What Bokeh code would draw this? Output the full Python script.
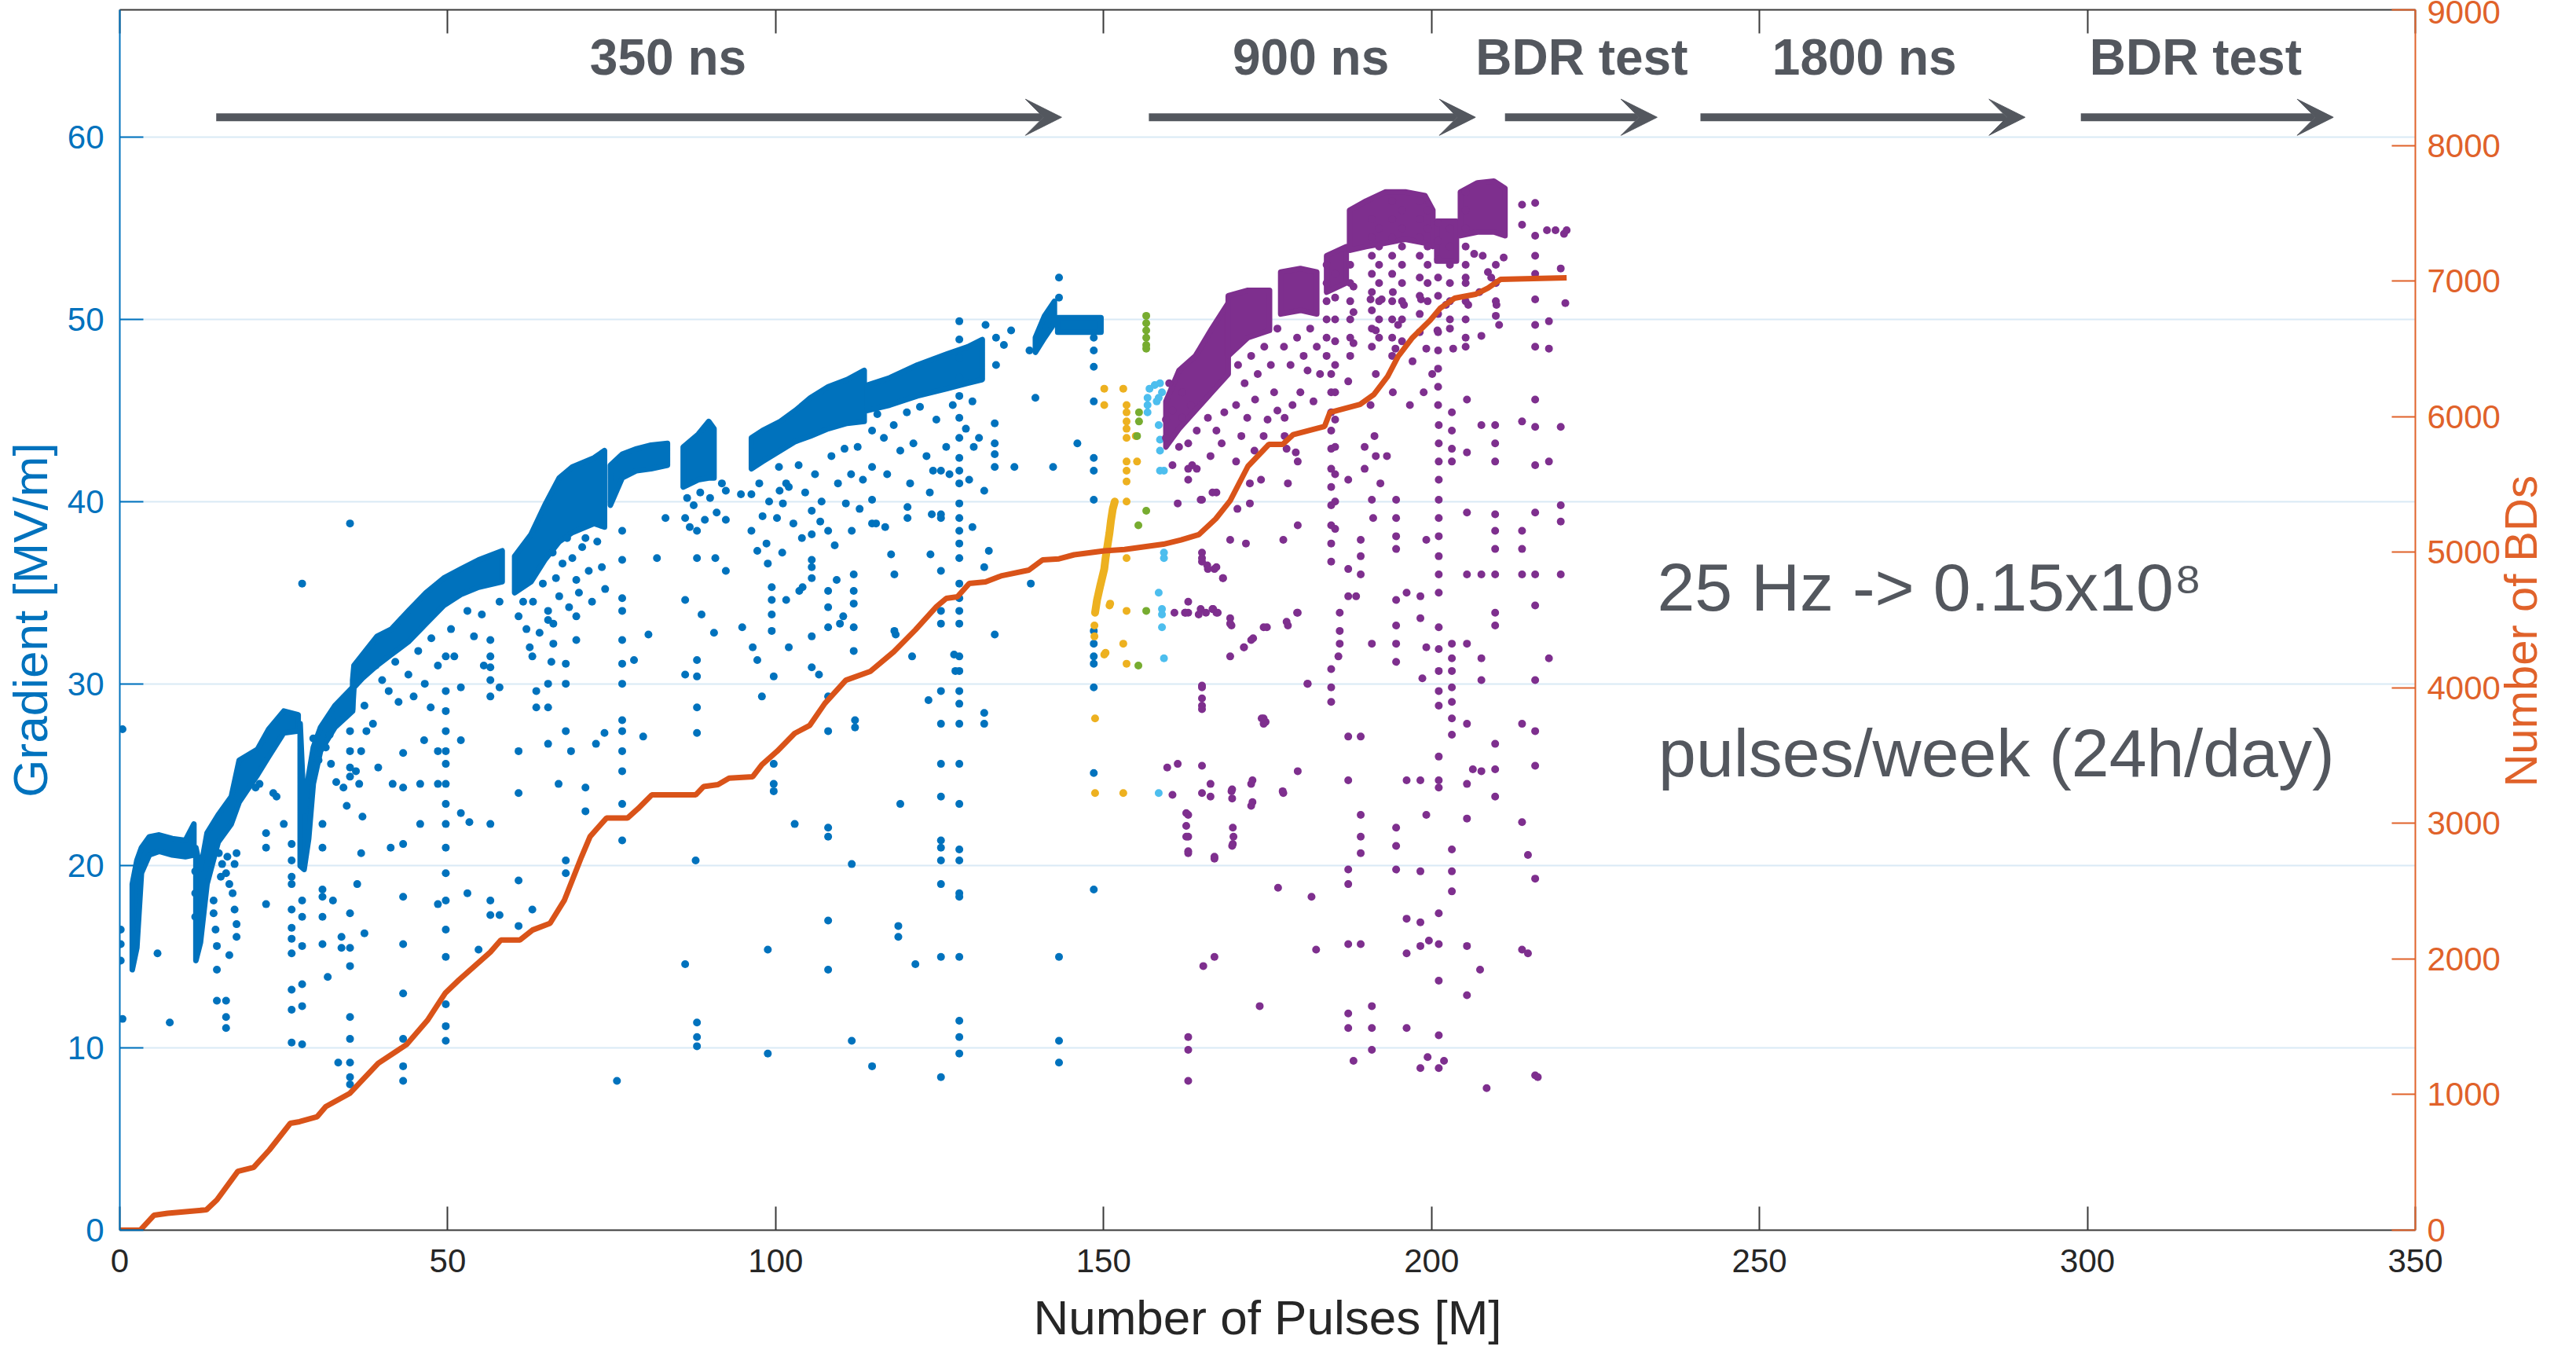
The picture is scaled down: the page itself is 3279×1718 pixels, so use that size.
import math
from bokeh.plotting import figure
from bokeh.models import Range1d, LinearAxis, FixedTicker, Arrow, VeeHead, ColumnDataSource
from bokeh.embed import file_html
from bokeh.resources import INLINE
from bokeh.core.properties import value

FONT = "Liberation Sans"
BLUE = "#0072BD"; ORANGE = "#D95319"; ORANGE_AX = "#E0622A"; YELLOW = "#EDB120"
PURPLE = "#7E2F8E"; GREEN = "#77AC30"; LBLUE = "#4DBEEE"; DARK = "#262626"; ANN = "#53575E"

# ---------------- data ----------------
x_ticks = [0, 50, 100, 150, 200, 250, 300, 350]
y_ticks = [0, 10, 20, 30, 40, 50, 60]
bd_ticks = [0, 1000, 2000, 3000, 4000, 5000, 6000, 7000, 8000, 9000]

# cumulative number of breakdowns (right axis)
bd_x = [0, 3.1, 5.2, 7.3, 13.2, 14.8, 18, 20.4, 22.8, 26, 27.4, 30.1, 31.4, 35.1, 39.4, 43.7, 46.9, 49.6,
        51.7, 56.5, 58.1, 61, 62.9, 65.6, 67.8, 70.4, 71.7, 74.2, 77.4, 79, 81.1, 87.8, 89, 91.2, 92.9,
        96.5, 97.9, 100.2, 102.9, 105.2, 107.5, 110.7, 114.4, 118, 121.3, 124.5, 126, 127.7, 129.5, 132,
        134.5, 138.6, 140.7, 143.2, 145.5, 150.1, 153.2, 159.1, 161.8, 164.5, 167.1, 169.3, 172, 175.2,
        177.3, 178.9, 183.7, 184.5, 189.1, 191.2, 193.3, 194.9, 197, 199.8, 201.3, 203.5, 206.7, 208.6,
        210.5, 220.6]
bd_y = [0, 0, 110, 125, 150, 223, 434, 463, 591, 788, 800, 837, 911, 1010, 1231, 1368, 1547, 1747,
        1845, 2051, 2140, 2140, 2213, 2263, 2435, 2754, 2903, 3039, 3039, 3108, 3210, 3210, 3271, 3286, 3334,
        3344, 3433, 3531, 3664, 3723, 3885, 4056, 4120, 4265, 4427, 4598, 4659, 4671, 4769, 4781,
        4827, 4868, 4943, 4951, 4981, 5010, 5020, 5059, 5090, 5129, 5246, 5380, 5633, 5795,
        5795, 5867, 5928, 6030, 6090, 6163, 6296, 6444, 6577, 6711, 6798, 6873, 6902, 6948,
        7012, 7024]

# dense conditioning bands of the 350 ns run: (x, upper gradient, lower gradient)
blue_bands = [
    ([1.9, 2.6, 3.3, 4.5, 6.0, 8.0, 10.0, 11.3], [19.0, 20.3, 21.0, 21.6, 21.7, 21.5, 21.4, 22.3], [14.3, 15.5, 19.6, 20.6, 20.8, 20.6, 20.5, 20.6]),
    ([11.6, 12.3, 13.3, 15.0, 17.0, 18.2, 21.0, 22.7, 25.0, 27.2], [21.0, 19.8, 21.8, 22.8, 23.8, 25.8, 26.4, 27.5, 28.5, 28.3], [14.8, 15.8, 19.0, 21.3, 22.3, 23.5, 25.0, 26.0, 27.3, 27.4]),
    ([27.5, 28.1, 28.8, 29.5, 30.6, 32.8, 35.5], [27.8, 23.0, 25.0, 26.5, 27.6, 28.8, 29.8], [20.0, 19.8, 21.5, 24.5, 26.3, 27.6, 28.5]),
    ([35.5, 35.7, 37, 39.2, 41.4, 44, 46.7, 49.4, 52, 54.7, 58.3], [30.2, 31.0, 31.6, 32.6, 33.0, 34.0, 35.0, 35.8, 36.3, 36.8, 37.3], [28.6, 29.8, 30.3, 31.0, 31.6, 32.3, 33.3, 34.3, 34.9, 35.3, 35.6]),
    ([60.2, 62.7, 64.8, 67.0, 69.0, 72.3, 73.9], [37.0, 38.2, 39.8, 41.3, 41.9, 42.4, 42.8], [35.0, 35.6, 36.8, 37.8, 38.3, 38.8, 38.6]),
    ([74.8, 76.6, 78.8, 81.0, 83.5], [42.0, 42.6, 42.9, 43.1, 43.2], [39.8, 41.3, 41.7, 41.8, 42.0]),
    ([85.9, 88.2, 89.8, 90.6], [43.0, 43.7, 44.4, 44.0], [40.8, 41.2, 41.3, 41.3]),
    ([96.3, 98.0, 100.7, 103.0, 105.3, 108.0, 110.9, 113.5], [43.5, 43.9, 44.4, 45.0, 45.7, 46.3, 46.7, 47.2], [41.8, 42.2, 42.8, 43.3, 43.6, 44.0, 44.3, 44.4]),
    ([114.0, 117.4, 121.6, 126.1, 129.3, 131.5], [46.4, 46.8, 47.5, 48.1, 48.5, 48.9], [45.0, 45.3, 45.8, 46.2, 46.5, 46.7]),
    ([139.6, 141.0, 142.5], [49.0, 50.2, 51.0], [48.2, 49.0, 49.8]),
    ([143.0, 149.6], [50.1, 50.1], [49.3, 49.3]),
]

# dense bands of the 900 ns run
purple_bands = [
    ([159.5, 161.5, 164.0, 166.5, 169.0], [45.5, 47.2, 48.0, 49.5, 50.9], [43.0, 44.0, 45.0, 46.0, 47.0]),
    ([169.0, 172.0, 175.3], [51.3, 51.6, 51.6], [48.0, 49.0, 49.4]),
    ([177.0, 180.0, 182.5], [52.6, 52.8, 52.6], [50.3, 50.5, 50.3]),
    ([184.0, 187.0], [53.5, 54.0], [51.5, 52.0]),
    ([187.5, 190.0, 193.0, 196.0, 199.0, 200.2], [56.0, 56.5, 57.0, 57.0, 56.8, 56.0], [53.8, 54.0, 54.2, 54.4, 54.2, 54.0]),
    ([200.8, 203.8], [55.4, 55.4], [53.2, 53.2]),
    ([204.4, 207.0, 209.5, 211.2], [57.0, 57.5, 57.6, 57.2], [54.6, 54.8, 54.8, 54.6]),
]

blue_pts = [
    (0.41, 27.5), (0.41, 11.6), (0.14, 16.5), (0.14, 15.7), (0.14, 14.8), (5.75, 15.2), (7.62, 11.4), (11.5, 19.7), (11.5, 18.5), (11.5, 17.2),
    (14.3, 18.1), (14.3, 17.4), (14.6, 16.5), (14.8, 15.6), (14.8, 14.3), (14.8, 12.6), (16.2, 12.6), (16.2, 11.7), (16.2, 11.1), (16.7, 15.1), (17.8, 16.1), (17.5, 17.6), (17.8, 16.8),
    (15.1, 20.7), (15.6, 20.1), (16.2, 19.6), (16.7, 19.0), (17.2, 18.5), (15.4, 19.4), (16.4, 20.5), (17.5, 20.1), (17.8, 20.7),
    (20.7, 24.3), (21.3, 24.5), (22.3, 21.8), (22.3, 21.0), (22.3, 17.9), (23.4, 24.0), (23.9, 23.8), (25.0, 22.3),
    (26.2, 21.2), (26.2, 20.3), (26.2, 19.4), (26.2, 19.0), (26.2, 17.6), (26.2, 16.6), (26.2, 16.0), (26.2, 15.2), (26.2, 13.2), (26.2, 12.1), (26.2, 10.3),
    (27.8, 35.5), (27.8, 18.1), (27.8, 17.2), (27.8, 15.6), (27.8, 13.5), (27.8, 12.3), (27.8, 10.2),
    (30.9, 22.3), (30.9, 21.0), (30.9, 18.7), (30.9, 18.3), (30.9, 17.2), (30.9, 15.7), (31.7, 13.9), (32.5, 18.1), (33.8, 16.1), (33.8, 15.5),
    (35.1, 27.4), (35.1, 26.3), (35.1, 25.4), (35.1, 24.9), (35.1, 17.4), (35.1, 15.5), (35.1, 14.5), (35.1, 11.7), (35.1, 10.5), (35.1, 9.2), (35.1, 8.4), (35.1, 8.0),
    (35.1, 38.8), (33.3, 9.2), (36.5, 24.5), (37.0, 22.7), (36.8, 20.7), (36.2, 19.0), (37.3, 16.3),
    (39.4, 25.4), (41.3, 21.0), (41.6, 24.5),
    (43.2, 26.2), (43.2, 24.3), (43.2, 21.2), (43.2, 18.3), (43.2, 15.7), (43.2, 13.0), (43.2, 10.5), (43.2, 9.0), (43.2, 8.2),
    (44.8, 29.3), (45.8, 22.3), (45.8, 24.5), (46.4, 26.9), (47.4, 28.7), (48.5, 26.3), (48.5, 24.5), (48.5, 17.9),
    (49.7, 31.5), (49.7, 29.6), (49.7, 28.5), (49.7, 27.4), (49.7, 26.3), (49.7, 25.6), (49.7, 24.5), (49.7, 23.4), (49.7, 22.3), (49.7, 21.0),
    (49.7, 19.6), (49.7, 18.1), (49.7, 16.5), (49.7, 15.0), (49.7, 12.4), (49.7, 11.2), (49.7, 10.4),
    (52.0, 29.8), (52.0, 26.9), (52.0, 22.9), (53.0, 18.5), (53.3, 22.4), (54.7, 15.4),
    (56.5, 32.4), (56.5, 31.5), (56.5, 30.9), (56.5, 30.2), (56.5, 29.3), (56.5, 22.3), (56.5, 18.1), (56.5, 17.3),
    (57.9, 34.5), (57.9, 29.8), (57.9, 17.3),
    (60.8, 33.7), (60.8, 26.3), (60.8, 24.0), (60.8, 19.2), (60.8, 16.7), (62.9, 31.5), (62.9, 17.6), (63.5, 29.6), (63.5, 28.7),
    (65.3, 34.0), (65.3, 33.5), (65.3, 30.0), (65.3, 28.7), (65.3, 26.7), (66.1, 33.3), (66.1, 32.2), (66.9, 24.5),
    (68.0, 31.1), (68.0, 30.0), (68.0, 27.4), (68.0, 20.3), (68.0, 19.6), (68.8, 26.3), (69.6, 35.7), (69.6, 33.7), (69.6, 32.4),
    (71.0, 24.3), (71.0, 23.0), (72.6, 26.7), (73.9, 27.3),
    (76.6, 38.4), (76.6, 36.8), (76.6, 34.7), (76.6, 34.0), (76.6, 32.4), (76.6, 31.1), (76.6, 30.0), (76.6, 28.0), (76.6, 27.4), (76.6, 26.3), (76.6, 25.2), (76.6, 23.4), (76.6, 21.4),
    (75.8, 8.2), (78.4, 31.3), (80.6, 32.7), (79.8, 27.1),
    (29.5, 27.0), (30.3, 25.8), (31.4, 26.5), (32.2, 25.6), (33.0, 24.6), (34.1, 24.3), (36.0, 25.2), (36.8, 26.3), (37.6, 27.4), (38.6, 27.8),
    (37.3, 28.8), (34.6, 23.3), (32.0, 27.2), (33.5, 28.0),
    (39.0, 31.0), (40.0, 30.2), (41.0, 29.6), (42.0, 31.2), (42.5, 29.0), (44.0, 30.5), (45.5, 31.8), (46.5, 30.0), (47.5, 32.5), (48.5, 31.0),
    (50.5, 33.0), (51.0, 31.5), (53.0, 34.0), (54.0, 32.6), (55.2, 33.8), (55.5, 31.0),
    (61.5, 34.5), (62.0, 33.0), (63.0, 34.5), (64.0, 32.8), (64.5, 35.5), (66.5, 35.8), (67.0, 34.8), (67.5, 36.6), (68.5, 34.2), (69.0, 36.9),
    (70.0, 35.0), (70.5, 37.5), (71.5, 36.2), (72.0, 34.5), (72.8, 37.8), (73.5, 36.4), (74.0, 35.2), (71.0, 38.0), (68.2, 38.0), (66.0, 37.2),
    (62.5, 32.0), (65.8, 31.2),
    (81.9, 36.9), (83.2, 39.1), (86.2, 39.1), (86.9, 38.6), (88.0, 38.4),
    (86.2, 34.6), (86.2, 30.5), (86.2, 14.6),
    (88.0, 36.9), (88.0, 31.3), (88.0, 30.4), (88.0, 28.7), (88.0, 27.3), (88.0, 11.4), (88.0, 10.6), (88.0, 10.1),
    (87.8, 20.3), (88.7, 33.8), (90.6, 32.8), (90.8, 36.9), (92.4, 39.0), (92.4, 36.2), (92.4, 40.6), (94.7, 40.4), (96.3, 40.4),
    (86.5, 40.2), (87.5, 39.8), (88.5, 40.5), (89.2, 39.0), (90.0, 40.2), (91.0, 39.4), (91.8, 41.0),
    (94.9, 33.1), (96.5, 32.0), (97.2, 31.3), (96.3, 38.4), (97.2, 37.3), (98.6, 37.7), (98.8, 36.6),
    (99.4, 35.3), (99.4, 34.6), (99.4, 33.8), (99.4, 32.9), (99.7, 30.4), (99.7, 25.6), (99.7, 24.5), (99.7, 24.1), (98.8, 15.4), (98.8, 9.7), (97.9, 29.3),
    (100.2, 39.1), (100.6, 40.6), (101.1, 39.9), (101.6, 41.0), (101.6, 34.6), (102.0, 32.0), (102.7, 38.8), (102.9, 22.3), (103.6, 35.1), (104.1, 35.3),
    (97.5, 41.0), (99.0, 40.0), (100.5, 41.9), (102.0, 40.8), (103.5, 42.0), (104.5, 40.5), (106.0, 41.5), (107.0, 40.0), (108.5, 42.5), (109.5, 41.0),
    (110.5, 42.9), (111.5, 41.5), (112.5, 43.0), (113.3, 41.2), (104.0, 38.0), (106.8, 38.9), (109.0, 37.6), (112.8, 39.6), (101.0, 37.2), (98.0, 39.2),
    (105.5, 38.2), (105.5, 39.5), (105.5, 36.8), (105.5, 36.4), (105.5, 35.8), (105.5, 32.6), (105.5, 30.9), (106.6, 30.5),
    (108.0, 38.4), (108.0, 35.1), (108.0, 34.2), (108.0, 33.1), (108.0, 29.3), (108.0, 27.4), (108.0, 22.1), (108.0, 21.6), (108.0, 17.0), (108.0, 14.3),
    (109.3, 35.7), (109.8, 33.3), (110.3, 33.7),
    (111.9, 36.0), (111.9, 35.1), (111.9, 34.4), (111.9, 33.1), (111.9, 31.8), (110.7, 39.9), (111.6, 38.4), (112.1, 28.0), (112.1, 27.6), (111.6, 20.1), (111.6, 10.4),
    (114.7, 43.9), (114.7, 41.9), (114.7, 40.1), (114.7, 38.8), (114.7, 9.0), (115.3, 38.8), (116.7, 38.6),
    (115.5, 44.8), (116.5, 43.5), (118.0, 44.2), (119.0, 42.8), (120.0, 44.9), (121.0, 43.2), (122.0, 45.2), (123.0, 42.5), (124.5, 44.5), (126.0, 43.0),
    (127.0, 45.3), (129.0, 44.0), (130.0, 45.5), (131.0, 43.5), (117.0, 41.5), (120.5, 41.0), (123.5, 40.5), (126.5, 41.5), (129.5, 41.2),
    (117.6, 37.1), (118.1, 36.0), (118.1, 32.9), (118.3, 32.7), (118.7, 16.7), (118.7, 16.1), (119.0, 23.4),
    (120.8, 31.5), (121.3, 14.6), (120.1, 39.7), (120.1, 39.1), (123.6, 37.1), (123.3, 29.1), (123.8, 39.3), (124.0, 41.7),
    (125.2, 41.7), (125.2, 39.3), (125.2, 39.1), (125.2, 36.2), (125.2, 34.0), (125.2, 33.3), (125.2, 29.6), (125.2, 27.8), (125.2, 25.6), (125.2, 23.8),
    (125.2, 21.4), (125.2, 21.0), (125.2, 20.3), (125.2, 19.0), (125.2, 15.0), (125.2, 8.4),
    (128.0, 49.9), (128.0, 48.9), (128.0, 47.9), (128.0, 46.8), (128.0, 45.8),
    (128.0, 44.6), (128.0, 43.5), (128.0, 42.4), (128.0, 41.7), (128.0, 41.0), (128.0, 39.9), (128.0, 39.1), (128.0, 38.4), (128.0, 37.7), (128.0, 36.9),
    (128.0, 35.5), (128.0, 34.7), (128.0, 34.0), (128.0, 33.3), (128.0, 31.5), (128.0, 30.7), (128.0, 29.6), (128.0, 28.9), (128.0, 27.8), (128.0, 25.6),
    (128.0, 23.4), (128.0, 20.9), (128.0, 20.3), (128.0, 18.5), (128.0, 18.3), (128.0, 15.0), (128.0, 11.5), (128.0, 10.6), (128.0, 9.7),
    (127.2, 31.6), (127.4, 30.7), (130.2, 43.0), (130.0, 38.6),
    (131.8, 40.6), (131.8, 36.4), (131.8, 28.4), (131.8, 27.8), (132.5, 37.3),
    (133.4, 44.3), (133.4, 43.2), (133.4, 42.6), (133.4, 41.9), (133.4, 32.7),
    (136.4, 41.9), (138.9, 35.5), (139.6, 45.7), (142.3, 41.9), (143.2, 15.0), (143.2, 10.4), (143.2, 9.2), (146.0, 43.2),
    (148.5, 49.0), (148.5, 48.3), (148.5, 47.4), (148.5, 45.5), (148.5, 42.4), (148.5, 41.7), (148.5, 40.1), (148.5, 32.9), (148.5, 32.2),
    (148.5, 31.5), (148.5, 31.1), (148.5, 29.8), (148.5, 25.1), (148.5, 18.7),
    (143.2, 52.3), (143.2, 51.2), (132.0, 49.7), (133.6, 49.0), (134.8, 48.6), (135.9, 49.4), (133.6, 47.5), (138.7, 48.3),
]

yellow_run_x = [148.7, 149.0, 149.5, 150.1, 150.3, 150.6, 150.9, 151.1, 151.4, 151.7]
yellow_run_y = [33.9, 34.6, 35.4, 36.3, 36.9, 37.6, 38.3, 38.9, 39.6, 40.0]
yellow_pts = [
    (150.1, 46.2), (150.1, 45.3), (153.0, 46.2), (153.5, 45.3), (153.5, 44.9), (153.5, 44.4), (153.5, 44.0), (153.5, 43.5),
    (153.5, 42.2), (153.5, 41.7), (153.5, 41.1), (153.5, 40.0), (153.5, 36.9), (153.5, 34.0), (150.9, 34.3), (153.0, 32.2),
    (153.5, 31.1), (150.3, 31.7), (148.7, 28.1), (153.0, 24.0), (154.9, 43.6), (155.1, 42.2), (148.6, 32.6), (148.6, 33.2),
    (151.0, 34.4), (150.1, 31.6), (148.7, 24.0),
]
green_pts = [
    (156.5, 50.2), (156.5, 49.8), (156.5, 49.4), (156.5, 49.0), (156.5, 48.6), (156.5, 48.4),
    (155.4, 44.9), (155.4, 44.4), (155.1, 43.6), (156.5, 39.5), (155.3, 38.7), (156.5, 34.0), (155.3, 31.0),
]
lblue_pts = [
    (156.7, 45.7), (157.0, 46.2), (157.8, 46.4), (158.6, 46.5), (158.9, 46.0), (158.4, 45.7), (156.7, 45.3), (158.1, 45.5),
    (156.7, 44.9), (158.4, 44.2), (158.6, 43.4), (158.6, 42.8), (158.6, 41.7), (159.2, 41.7), (159.2, 37.2), (159.2, 36.9),
    (158.4, 35.0), (158.9, 34.1), (158.9, 33.8), (158.9, 33.1), (159.2, 31.4), (158.4, 24.0),
]
purple_pts = [
    (162.9, 43.2), (162.9, 41.8), (162.9, 41.2), (162.9, 33.9), (162.9, 22.8), (162.9, 21.6), (162.9, 20.7), (162.9, 10.6), (162.9, 9.9), (162.9, 8.2), (162.5, 33.9),
    (165.0, 40.1), (165.0, 37.2), (165.0, 36.7), (165.0, 29.8), (165.0, 28.8), (165.0, 25.5), (165.0, 24.0),
    (164.8, 34.1), (166.7, 34.1), (167.2, 33.9), (169.3, 33.6), (169.5, 33.2), (166.3, 24.5), (166.3, 23.8),
    (165.2, 14.5), (166.9, 15.0), (166.9, 20.4), (167.2, 40.5), (165.9, 36.3), (166.9, 36.3), (168.2, 35.8),
    (169.3, 37.9), (170.4, 39.6), (171.7, 37.7), (172.3, 41.0), (172.3, 39.9), (169.3, 31.5),
    (169.5, 24.1), (169.7, 22.1), (169.7, 21.2), (171.4, 32.0), (172.5, 32.4), (172.7, 24.7), (172.7, 23.5), (173.8, 12.3),
    (174.0, 41.2), (174.9, 33.1), (174.4, 28.1), (174.4, 27.8),
    (177.4, 37.9), (177.4, 24.0), (178.1, 33.2), (178.1, 41.0),
    (179.6, 38.7), (179.6, 33.9), (179.6, 25.2), (181.7, 18.3), (181.1, 30.0),
    (177.6, 44.6), (177.6, 43.6), (177.9, 42.9), (179.3, 42.7), (179.6, 42.2), (181.1, 47.2),
    (184.7, 47.0), (184.7, 46.0), (184.7, 44.9), (184.7, 43.9), (184.7, 42.9), (184.7, 41.8), (184.7, 40.8), (184.7, 39.8), (184.7, 38.7), (184.7, 37.7),
    (184.7, 36.7), (184.7, 30.8), (184.7, 29.8), (184.7, 29.0),
    (186.0, 33.9), (186.0, 32.9), (186.0, 32.2), (185.8, 31.5),
    (187.3, 41.2), (187.3, 36.3), (187.3, 34.8), (187.3, 27.1), (187.3, 24.7), (187.3, 19.8), (187.3, 19.0), (187.3, 15.7), (187.3, 11.9), (187.3, 11.1),
    (189.2, 37.9), (189.2, 37.0), (189.2, 36.0), (189.2, 27.1), (189.2, 22.8), (189.2, 21.6), (189.2, 20.7), (189.2, 15.7), (188.5, 34.8),
    (189.8, 43.0), (189.8, 41.8), (190.9, 40.1), (191.1, 39.1), (190.9, 32.2), (190.9, 12.3), (190.9, 11.1), (190.9, 9.9),
    (191.3, 43.6), (191.5, 42.5), (193.2, 42.5), (192.2, 41.0),
    (194.6, 40.1), (194.6, 39.1), (194.6, 38.1), (194.6, 37.4), (194.6, 34.6), (194.6, 33.2), (194.6, 32.2), (194.6, 31.2), (194.6, 22.1), (194.6, 21.1), (194.6, 19.8),
    (196.2, 35.0), (196.2, 24.7), (196.2, 17.1), (196.2, 15.2), (196.2, 11.1),
    (198.3, 34.8), (198.3, 33.6), (198.3, 24.7), (198.3, 19.7), (198.3, 16.9), (198.3, 15.6), (198.3, 8.9), (199.4, 9.5), (198.6, 30.3), (199.2, 32.0), (199.2, 37.9), (199.2, 22.8),
    (201.1, 44.2), (201.1, 43.2), (201.1, 42.2), (201.1, 41.2), (201.1, 40.1), (201.1, 39.1), (201.1, 38.1), (201.1, 37.0), (201.1, 36.0), (201.1, 35.0),
    (201.1, 33.1), (201.1, 31.9), (201.1, 30.7), (201.1, 29.6), (201.1, 28.8), (201.1, 26.0), (201.1, 24.7), (201.1, 24.3), (201.1, 17.4), (201.1, 15.7), (201.1, 13.7), (201.1, 8.9),
    (203.1, 44.9), (203.1, 43.9), (203.1, 42.9), (203.1, 42.2), (203.1, 32.2), (203.1, 31.4), (203.1, 30.7), (203.1, 29.8), (203.1, 29.0), (203.1, 28.1),
    (203.1, 27.2), (203.1, 20.9), (203.1, 19.7), (203.1, 18.6),
    (205.4, 45.6), (205.4, 42.7), (205.4, 39.4), (205.4, 36.0), (205.4, 32.2), (205.4, 27.8), (205.4, 24.5), (205.4, 22.6), (205.4, 15.6),
    (207.6, 49.1), (207.6, 44.2), (207.6, 36.0), (207.6, 31.4), (207.6, 30.2), (207.6, 25.2), (206.3, 25.3), (208.4, 7.8),
    (209.7, 44.2), (209.7, 43.2), (209.7, 42.2), (209.7, 39.3), (209.7, 38.4), (209.7, 37.4), (209.7, 36.0), (209.7, 33.9), (209.7, 33.2), (209.7, 26.7), (209.7, 25.3), (209.7, 23.8),
    (213.8, 44.4), (213.8, 38.4), (213.8, 37.4), (213.8, 36.0), (213.8, 27.8), (213.8, 22.4), (213.8, 15.4),
    (215.8, 56.4), (215.8, 54.6), (215.8, 53.5), (215.8, 52.5), (215.8, 51.1), (215.8, 49.7), (215.8, 48.5), (215.8, 45.6), (215.8, 44.1), (215.8, 42.0),
    (215.8, 39.4), (215.8, 36.0), (215.8, 34.3), (215.8, 30.2), (215.8, 27.4), (215.8, 25.5), (215.8, 19.3), (215.8, 8.5),
    (217.9, 49.9), (217.9, 48.4), (217.9, 42.2), (217.9, 31.4),
    (219.7, 52.8), (219.7, 44.1), (219.7, 39.8), (219.7, 38.9), (219.7, 36.0), (220.4, 50.9),
    (213.8, 56.3), (213.8, 55.2), (217.6, 54.9), (218.9, 54.9), (220.2, 54.7), (220.6, 54.9),
    (159.7, 25.4), (161.3, 25.6), (160.5, 23.9), (160.8, 33.9), (162.4, 33.9), (162.9, 34.5), (164.5, 33.8), (165.6, 33.9), (166.6, 34.1), (167.4, 33.9), (169.3, 33.3),
    (165.0, 36.9), (165.8, 36.5), (167.2, 36.4), (168.2, 35.8), (165.0, 29.9), (165.0, 29.2), (165.0, 28.6),
    (162.6, 22.9), (162.6, 22.2), (162.6, 21.6), (162.9, 20.8), (161.3, 39.9), (164.8, 40.1), (166.6, 40.5),
    (169.6, 24.2), (169.6, 23.7), (169.8, 21.6), (169.6, 21.1), (171.4, 32.0), (172.8, 32.5), (174.4, 33.1), (174.7, 27.9), (172.5, 24.5), (172.5, 23.3), (174.1, 28.1),
    (177.3, 24.1), (177.9, 33.4), (179.5, 33.9), (181.1, 30.0), (166.9, 20.5),
    (176.6, 18.8), (182.4, 15.4), (188.1, 9.3), (199.6, 15.9), (201.1, 10.7), (201.9, 9.3), (205.4, 12.9), (207.4, 14.3), (216.2, 8.4), (214.7, 20.6), (214.7, 15.2),
    (162.0, 46.0), (163.3, 45.3), (162.0, 44.6), (164.2, 43.9), (165.9, 44.6), (167.2, 43.9), (168.4, 44.9), (168.0, 43.2), (170.2, 45.3), (171.0, 43.6),
    (171.9, 44.6), (173.1, 45.6), (174.4, 43.6), (170.2, 42.2), (166.3, 42.5), (164.2, 41.8),
    (188.1, 51.8), (188.1, 50.4), (190.7, 51.1), (191.5, 49.4), (192.4, 51.1), (194.1, 51.5), (194.9, 49.7), (195.8, 50.8), (197.1, 47.7), (198.4, 51.1),
    (199.2, 48.4), (200.9, 49.4), (202.2, 50.8), (203.3, 48.4), (205.2, 52.3), (205.6, 50.8), (207.3, 51.5), (209.1, 52.3), (209.9, 50.8), (210.3, 49.7),
    (191.5, 47.0), (194.1, 46.0), (196.7, 45.3), (190.7, 45.3), (198.8, 46.0), (187.3, 46.6), (188.1, 48.7), (194.5, 48.4), (200.1, 47.0),
    (159.5, 44.5), (159.5, 43.5), (160.0, 46.5), (160.5, 45.0),
    (184.0, 53.0), (184.0, 52.0), (184.0, 51.0), (184.0, 50.0), (184.0, 49.0), (184.0, 48.0),
    (185.3, 52.5), (185.3, 51.2), (185.3, 50.0), (185.3, 48.8), (185.3, 47.5), (185.3, 46.0), (185.3, 44.5), (185.3, 43.0), (185.3, 41.5), (185.3, 40.0), (185.3, 38.5),
    (187.6, 53.0), (187.6, 52.0), (187.6, 51.0), (187.6, 50.0), (187.6, 49.0), (187.6, 48.0),
    (190.9, 55.5), (190.9, 54.5), (190.9, 53.5), (190.9, 52.5), (190.9, 51.5), (190.9, 50.5), (190.9, 49.5), (190.9, 48.5),
    (192.0, 55.0), (192.0, 54.0), (192.0, 53.0), (192.0, 52.0), (192.0, 51.0), (192.0, 50.0), (192.0, 49.0),
    (194.0, 56.5), (194.0, 55.5), (194.0, 54.5), (194.0, 53.5), (194.0, 52.5), (194.0, 51.0), (194.0, 50.0), (194.0, 49.0), (194.0, 48.0),
    (195.5, 56.0), (195.5, 55.0), (195.5, 54.0), (195.5, 53.0), (195.5, 52.0), (195.5, 51.0), (195.5, 50.0), (195.5, 48.8),
    (198.2, 56.5), (198.2, 55.5), (198.2, 54.5), (198.2, 53.5), (198.2, 52.3), (198.2, 51.3), (198.2, 50.3), (198.2, 49.3),
    (199.4, 56.0), (199.4, 55.0), (199.4, 54.0), (199.4, 53.0), (199.4, 52.0), (199.4, 51.0),
    (201.0, 55.3), (201.0, 54.3), (201.0, 53.3), (201.0, 52.3), (201.0, 51.3), (201.0, 50.3), (201.0, 49.3), (201.0, 48.3), (201.0, 47.3), (201.0, 46.3), (201.0, 45.3),
    (202.8, 55.0), (202.8, 54.0), (202.8, 53.0), (202.8, 52.0), (202.8, 51.0), (202.8, 50.0), (202.8, 49.5),
    (205.2, 57.0), (205.2, 56.0), (205.2, 55.0), (205.2, 54.0), (205.2, 53.0), (205.2, 52.0), (205.2, 51.0), (205.2, 50.0), (205.2, 49.0), (205.2, 48.5),
    (209.8, 53.0), (209.8, 52.0), (209.8, 51.0), (209.8, 50.2), (207.8, 53.5), (208.6, 52.6), (206.5, 53.6), (211.0, 53.4),
    (170.5, 47.5), (171.5, 46.5), (172.5, 48.0), (173.5, 47.0), (174.5, 48.5), (175.5, 47.5), (176.0, 46.0), (176.5, 49.5), (177.5, 48.5), (178.5, 47.5),
    (179.5, 49.0), (180.5, 48.0), (181.5, 49.5), (182.5, 48.5), (183.0, 47.0), (180.0, 46.0), (182.0, 45.5), (176.5, 45.0), (175.0, 44.5), (173.0, 42.8),
    (178.8, 45.3), (160.5, 42.0), (161.5, 43.0), (163.5, 42.0),
]

# run annotations along the top
phase_labels = ["350 ns", "900 ns", "BDR test", "1800 ns", "BDR test"]
phase_label_x = [83.6, 181.6, 222.9, 266.0, 316.5]
phase_arrow_start = [14.7, 156.9, 211.2, 241.0, 299.0]
phase_arrow_end = [143.6, 206.7, 234.4, 290.5, 337.5]
phase_label_y = 64.4
phase_arrow_y = 61.1
note_lines = ["25 Hz -> 0.15x10\u2078", "pulses/week (24h/day)"]
note_x = [234.4, 234.6]
note_y = [35.3, 26.2]

# ---------------- figure ----------------
p = figure(width=3279, height=1718, x_range=Range1d(0, 350), y_range=Range1d(0, 67),
           output_backend="svg", toolbar_location=None,
           min_border_left=150, min_border_right=205, min_border_top=12, min_border_bottom=153)
p.extra_y_ranges = {"bd": Range1d(0, 9000)}
p.background_fill_color = "white"
p.border_fill_color = "white"
p.outline_line_color = None


def style_axis(ax, color, label_color, ticks, standoff):
    ax.ticker = FixedTicker(ticks=ticks)
    ax.axis_line_color = color
    ax.axis_line_width = 2
    ax.major_tick_line_color = color
    ax.major_tick_line_width = 2
    ax.major_tick_in = 30
    ax.major_tick_out = 0
    ax.minor_tick_line_color = None
    ax.major_label_text_color = label_color
    ax.major_label_text_font = FONT
    ax.major_label_text_font_size = "42px"
    ax.major_label_standoff = standoff
    ax.axis_label_text_font = FONT
    ax.axis_label_text_font_size = "62px"
    ax.axis_label_text_font_style = "normal"
    ax.axis_label_text_color = label_color
    ax.axis_label_standoff = 10


xa = p.xaxis[0]
style_axis(xa, "#3a3a3a", DARK, x_ticks, 24)
xa.axis_label = "Number of Pulses [M]"
xa.axis_label_standoff = 20

ya = p.yaxis[0]
style_axis(ya, BLUE, BLUE, y_ticks, 20)
ya.axis_label = "Gradient [MV/m]"

top = LinearAxis()
style_axis(top, "#3a3a3a", DARK, x_ticks, 0)
top.major_label_overrides = {t: "" for t in x_ticks}
top.major_label_text_font_size = "1px"
p.add_layout(top, "above")

right = LinearAxis(y_range_name="bd")
style_axis(right, ORANGE_AX, ORANGE_AX, bd_ticks, 15)
right.axis_label_text_font_size = "58px"
right.axis_label_standoff = 23
_props = LinearAxis.properties()
if "axis_label_orientation" in _props and "axis_label_align" in _props:
    # read bottom-to-top like the reference; the label starts at the lower frame edge,
    # non-breaking spaces lift it to the middle of the axis
    right.axis_label_orientation = math.pi / 2
    right.axis_label_align = "start"
    right.axis_label = "\u00a0" * 35 + "Number of BDs"
else:
    right.axis_label = "Number of BDs"
p.add_layout(right, "right")

p.xgrid.grid_line_color = None
p.ygrid[0].ticker = FixedTicker(ticks=y_ticks)
p.ygrid.grid_line_color = BLUE
p.ygrid.grid_line_alpha = 0.15
p.ygrid.grid_line_width = 2


def band_polys(segments):
    xs, ys = [], []
    for sx, top_v, bot_v in segments:
        xs.append(list(sx) + list(sx)[::-1])
        ys.append(list(top_v) + list(bot_v)[::-1])
    return xs, ys


def pts(lst):
    return [a for a, _ in lst], [b for _, b in lst]


bx, by = band_polys(blue_bands)
p.patches(bx, by, fill_color=BLUE, line_color=BLUE, line_width=7, line_join="round")
x, y = pts(blue_pts)
p.scatter(x, y, size=10, marker="circle", fill_color=BLUE, line_color=None)

p.line(yellow_run_x, yellow_run_y, line_color=YELLOW, line_width=10, line_cap="round")
x, y = pts(yellow_pts)
p.scatter(x, y, size=10, marker="circle", fill_color=YELLOW, line_color=None)
x, y = pts(lblue_pts)
p.scatter(x, y, size=10, marker="circle", fill_color=LBLUE, line_color=None)
x, y = pts(green_pts)
p.scatter(x, y, size=10, marker="circle", fill_color=GREEN, line_color=None)

px_, py_ = band_polys(purple_bands)
p.patches(px_, py_, fill_color=PURPLE, line_color=PURPLE, line_width=7, line_join="round")
x, y = pts(purple_pts)
p.scatter(x, y, size=10, marker="circle", fill_color=PURPLE, line_color=None)

p.line(bd_x, bd_y, y_range_name="bd", line_color=ORANGE, line_width=7)

lab_src = ColumnDataSource(dict(x=phase_label_x, y=[phase_label_y] * len(phase_label_x), t=phase_labels))
p.text(x="x", y="y", text="t", source=lab_src, text_font=value(FONT), text_font_size=value("64px"),
       text_font_style="bold", text_color=ANN, text_align="center", text_baseline="alphabetic")

for xs0, xs1 in zip(phase_arrow_start, phase_arrow_end):
    p.add_layout(Arrow(end=VeeHead(size=46, fill_color=ANN, line_color=ANN, line_width=1),
                       x_start=xs0, y_start=phase_arrow_y, x_end=xs1, y_end=phase_arrow_y,
                       line_color=ANN, line_width=10))

note_src = ColumnDataSource(dict(x=note_x, y=note_y, t=note_lines))
p.text(x="x", y="y", text="t", source=note_src, text_font=value(FONT), text_font_size=value("86px"),
       text_color=ANN, text_align="left", text_baseline="alphabetic")

open("out.html", "w").write(file_html(p, INLINE))
